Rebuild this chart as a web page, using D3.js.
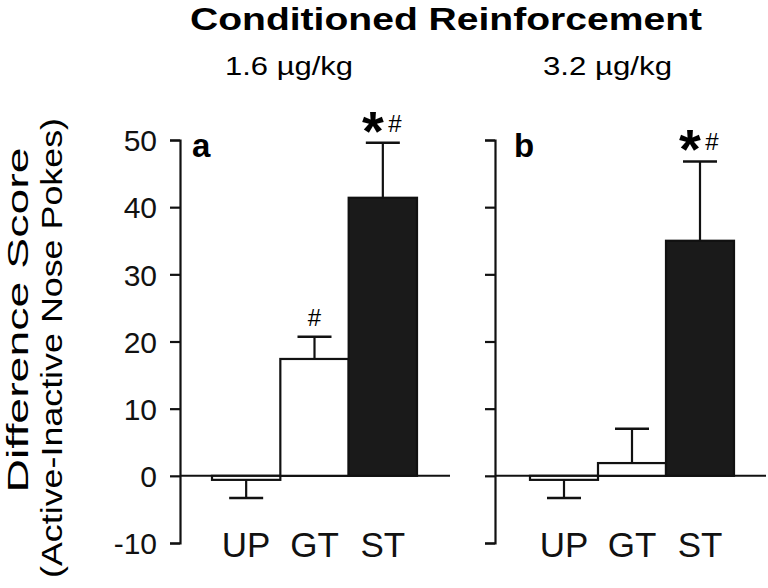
<!DOCTYPE html>
<html>
<head>
<meta charset="utf-8">
<script src="https://cdn.jsdelivr.net/npm/d3@7"></script>
<style>
  html, body { margin: 0; padding: 0; background: #fff; }
  svg { display: block; font-family: "Liberation Sans", Arial, Helvetica, sans-serif; }
</style>
</head>
<body>
<svg id="chart" width="768" height="588"></svg>
<script>
// ---- data ----
const title = "Conditioned Reinforcement";
const doses = ["1.6 µg/kg", "3.2 µg/kg"];
const panelLetters = ["a", "b"];
const groups = ["UP", "GT", "ST"];
const means16 = [-0.6, 17.4, 41.4];
const sems16 = [2.7, 3.3, 8.2];
const means32 = [-0.6, 1.9, 35.0];
const sems32 = [2.7, 5.1, 11.8];
const marks16 = ["", "#", "*#"];
const marks32 = ["", "", "*#"];
const yTicks = [-10, 0, 10, 20, 30, 40, 50];
const yLabel1 = "Difference Score";
const yLabel2 = "(Active-Inactive Nose Pokes)";
const fills = ["#ffffff", "#ffffff", "#1a1a1a"];

// ---- layout ----
const svg = d3.select("#chart");
const y = d3.scaleLinear().domain([-10, 50]).range([543, 140]);

const panels = [
  { means: means16, sems: sems16, marks: marks16, axisX: 180, xr: [212, 417], zeroEnd: 450, labels: true,
    dose: doses[0], doseX: 225, doseLen: 128, letter: panelLetters[0], letterX: 192 },
  { means: means32, sems: sems32, marks: marks32, axisX: 495, xr: [530, 734], zeroEnd: 766, labels: false,
    dose: doses[1], doseX: 543, doseLen: 129, letter: panelLetters[1], letterX: 514 }
];

// title
svg.append("text")
  .attr("x", 190).attr("y", 30)
  .attr("font-size", 32).attr("font-weight", "bold")
  .attr("textLength", 512).attr("lengthAdjust", "spacingAndGlyphs")
  .text(title);

// y label
svg.append("text")
  .attr("transform", "translate(28,320) rotate(-90)")
  .attr("text-anchor", "middle").attr("font-size", 29)
  .attr("textLength", 345).attr("lengthAdjust", "spacingAndGlyphs")
  .text(yLabel1);
svg.append("text")
  .attr("transform", "translate(62,348) rotate(-90)")
  .attr("text-anchor", "middle").attr("font-size", 30)
  .attr("textLength", 460).attr("lengthAdjust", "spacingAndGlyphs")
  .text(yLabel2);

panels.forEach(p => {
  const g = svg.append("g");
  const x = d3.scaleBand().domain(groups).range(p.xr).padding(0);

  // dose subtitle
  g.append("text")
    .attr("x", p.doseX).attr("y", 75)
    .attr("font-size", 25)
    .attr("textLength", p.doseLen).attr("lengthAdjust", "spacingAndGlyphs")
    .text(p.dose);

  // zero line
  g.append("line")
    .attr("x1", p.axisX).attr("x2", p.zeroEnd)
    .attr("y1", y(0)).attr("y2", y(0))
    .attr("stroke", "#111").attr("stroke-width", 2);

  // bars
  groups.forEach((grp, i) => {
    const v = p.means[i];
    g.append("rect")
      .attr("x", x(grp)).attr("width", x.bandwidth())
      .attr("y", Math.min(y(v), y(0)))
      .attr("height", Math.max(Math.abs(y(v) - y(0)), 1))
      .attr("fill", fills[i]).attr("stroke", "#111").attr("stroke-width", 2.2);
    // error bar
    const cx = x(grp) + x.bandwidth() / 2;
    const e = v >= 0 ? v + p.sems[i] : v - p.sems[i];
    g.append("line").attr("x1", cx).attr("x2", cx)
      .attr("y1", y(v)).attr("y2", y(e))
      .attr("stroke", "#111").attr("stroke-width", 2.2);
    g.append("line").attr("x1", cx - 17).attr("x2", cx + 17)
      .attr("y1", y(e)).attr("y2", y(e))
      .attr("stroke", "#111").attr("stroke-width", 2.4);
    // significance marks
    const m = p.marks[i];
    const my = y(e) - 11;
    if (m === "#") {
      g.append("text").attr("x", cx).attr("y", my)
        .attr("text-anchor", "middle").attr("font-size", 24).text("#");
    } else if (m === "*#") {
      g.append("text").attr("x", cx - 10).attr("y", my + 18)
        .attr("text-anchor", "middle").attr("font-size", 56).attr("font-weight", "bold").text("*");
      g.append("text").attr("x", cx + 12).attr("y", my)
        .attr("text-anchor", "middle").attr("font-size", 24).text("#");
    }
  });

  // y axis
  const axis = d3.axisLeft(y).tickValues(yTicks).tickSize(10).tickSizeOuter(10)
    .tickFormat(p.labels ? (d => String(d)) : () => "");
  const ag = g.append("g").attr("transform", `translate(${p.axisX},0)`).call(axis);
  ag.select(".domain").attr("stroke", "#111").attr("stroke-width", 2.2);
  ag.selectAll(".tick line").attr("stroke", "#111").attr("stroke-width", 2.2);
  ag.selectAll(".tick text")
    .attr("font-size", 30).attr("font-family", "Liberation Sans, Arial, sans-serif")
    .attr("fill", "#111").attr("x", -23).attr("dy", "0.36em");

  // x category labels
  groups.forEach(grp => {
    g.append("text")
      .attr("x", x(grp) + x.bandwidth() / 2).attr("y", 557)
      .attr("text-anchor", "middle").attr("font-size", 35).attr("fill", "#111")
      .text(grp);
  });

  // panel letter
  g.append("text")
    .attr("x", p.letterX).attr("y", 157)
    .attr("font-size", 33).attr("font-weight", "bold")
    .text(p.letter);
});
</script>
</body>
</html>
